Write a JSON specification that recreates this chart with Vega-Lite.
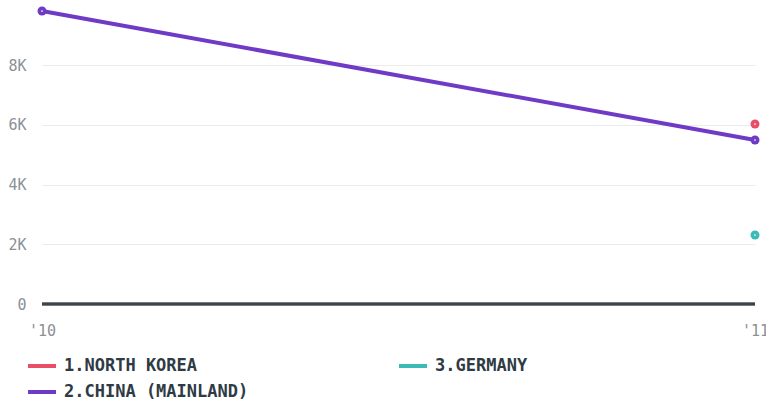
{
  "$schema": "https://vega.github.io/schema/vega-lite/v6.json",
  "autosize": {"type": "none"},
  "padding": {"left": 42, "top": 11, "right": 11, "bottom": 101},
  "width": 713,
  "height": 293,
  "background": "white",
  "config": {
    "view": {"stroke": null},
    "axis": {"labelFont": "DejaVu Sans Mono", "labelFontSize": 15, "labelColor": "#8a9197", "domain": false, "ticks": false, "title": null},
    "legend": {
      "labelFont": "DejaVu Sans Mono", "labelFontSize": 17, "labelFontWeight": "bold", "labelColor": "#2e3a44", "labelLimit": 400,
      "symbolType": "stroke", "symbolStrokeWidth": 4, "symbolSize": 784, "labelOffset": 6, "padding": 0
    }
  },
  "data": {"values": [
    {"country": "2.CHINA (MAINLAND)", "year": "'10", "value": 9808},
    {"country": "2.CHINA (MAINLAND)", "year": "'11", "value": 5490},
    {"country": "1.NORTH KOREA", "year": "'11", "value": 6025},
    {"country": "3.GERMANY", "year": "'11", "value": 2310}
  ]},
  "encoding": {
    "x": {"field": "year", "type": "ordinal", "scale": {"type": "point", "padding": 0, "domain": ["'10", "'11"]},
      "axis": {"labelAngle": 0, "labelPadding": 19, "grid": false}},
    "y": {"field": "value", "type": "quantitative", "scale": {"domain": [0, 9808], "nice": false},
      "axis": {"values": [0, 2000, 4000, 6000, 8000], "labelExpr": "datum.value == 0 ? '0' : (datum.value/1000) + 'K'", "labelPadding": 16, "gridColor": "#ebebeb", "gridWidth": 1}},
    "color": {"field": "country", "type": "nominal",
      "scale": {"domain": ["1.NORTH KOREA", "3.GERMANY", "2.CHINA (MAINLAND)"], "range": ["#e84e66", "#3bbab8", "#6e3ac6"]},
      "legend": {"orient": "none", "legendX": -16, "legendY": 339, "columns": 2, "columnPadding": 142, "rowPadding": 2, "title": null, "direction": "horizontal"}}
  },
  "layer": [
    {"mark": {"type": "rule", "color": "#3a444e", "strokeWidth": 2.5}, "encoding": {"x": null, "color": null, "y": {"datum": 0, "type": "quantitative"}}},
    {"mark": {"type": "line", "strokeWidth": 4}},
    {"mark": {"type": "point", "filled": true, "size": 80, "opacity": 1}},
    {"mark": {"type": "point", "filled": true, "size": 3, "opacity": 1, "color": "white"}, "encoding": {"color": null}}
  ]
}
